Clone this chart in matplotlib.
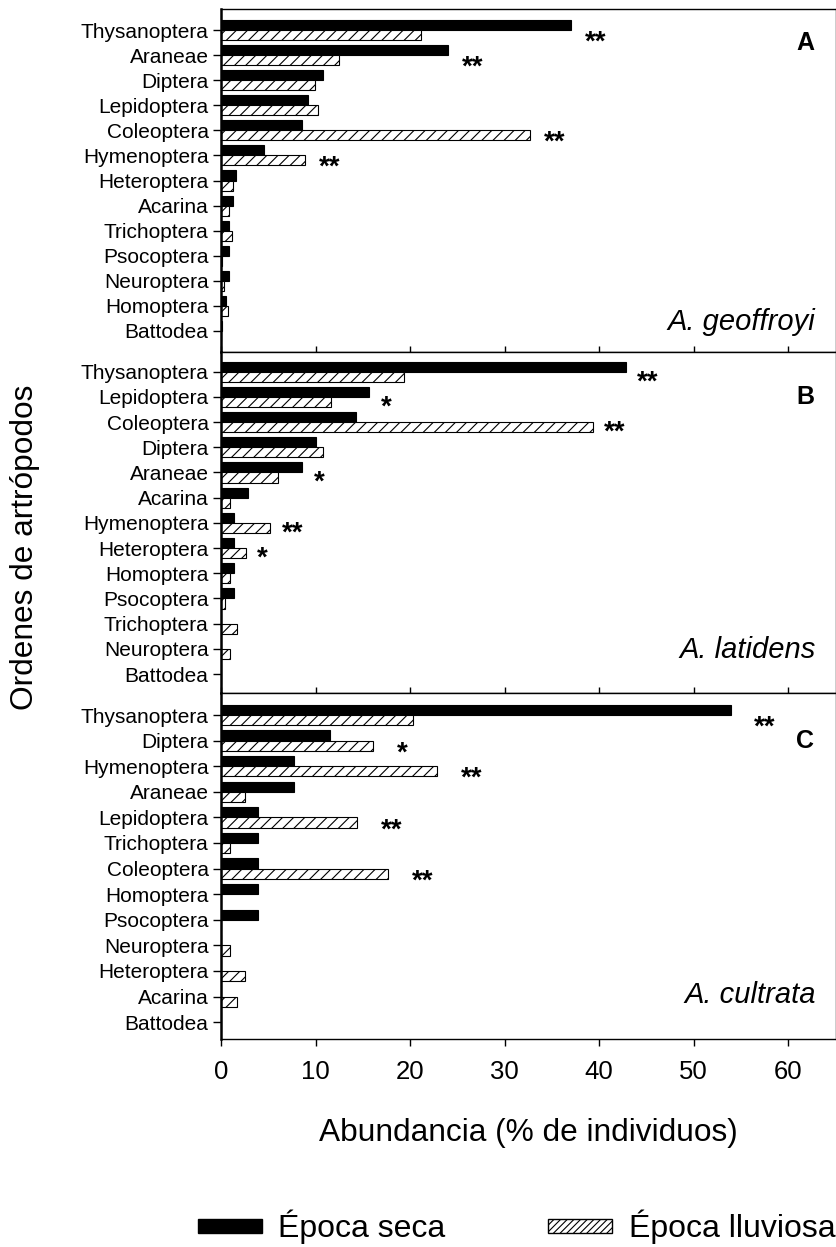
import matplotlib
matplotlib.use('Agg')
import matplotlib.pyplot as plt
from matplotlib.patches import Patch

plt.rcParams['font.family'] = ['Liberation Sans', 'DejaVu Sans']
plt.rcParams['hatch.linewidth'] = 0.8

# A. geoffroyi
orders_a = ['Thysanoptera', 'Araneae', 'Diptera', 'Lepidoptera', 'Coleoptera',
            'Hymenoptera', 'Heteroptera', 'Acarina', 'Trichoptera', 'Psocoptera',
            'Neuroptera', 'Homoptera', 'Battodea']
seca_a = [37.0, 24.0, 10.8, 9.2, 8.6, 4.5, 1.6, 1.3, 0.8, 0.8, 0.8, 0.5, 0.15]
lluv_a = [21.2, 12.5, 9.9, 10.3, 32.7, 8.9, 1.3, 0.8, 1.2, 0.15, 0.35, 0.7, 0.0]
sig_a = ['**', '**', '', '', '**', '**', '', '', '', '', '', '', '']

# A. latidens
orders_b = ['Thysanoptera', 'Lepidoptera', 'Coleoptera', 'Diptera', 'Araneae',
            'Acarina', 'Hymenoptera', 'Heteroptera', 'Homoptera', 'Psocoptera',
            'Trichoptera', 'Neuroptera', 'Battodea']
seca_b = [42.8, 15.7, 14.3, 10.0, 8.6, 2.85, 1.4, 1.4, 1.4, 1.4, 0.0, 0.0, 0.0]
lluv_b = [19.4, 11.6, 39.3, 10.8, 6.0, 0.9, 5.2, 2.6, 0.9, 0.4, 1.7, 0.9, 0.0]
sig_b = ['**', '*', '**', '', '*', '', '**', '*', '', '', '', '', '']

# A. cultrata
orders_c = ['Thysanoptera', 'Diptera', 'Hymenoptera', 'Araneae', 'Lepidoptera',
            'Trichoptera', 'Coleoptera', 'Homoptera', 'Psocoptera', 'Neuroptera',
            'Heteroptera', 'Acarina', 'Battodea']
seca_c = [53.9, 11.5, 7.7, 7.7, 3.9, 3.9, 3.9, 3.9, 3.9, 0.0, 0.0, 0.0, 0.0]
lluv_c = [20.3, 16.1, 22.9, 2.5, 14.4, 0.9, 17.7, 0.0, 0.0, 0.9, 2.5, 1.7, 0.0]
sig_c = ['**', '*', '**', '', '**', '', '**', '', '', '', '', '', '']

letters = ['A', 'B', 'C']
species = ['A. geoffroyi', 'A. latidens', 'A. cultrata']

W, H = 836, 1247
fig = plt.figure(figsize=(W / 100, H / 100), dpi=100)

# panel edges in pixels (top, bottom) and y limits
edges = [(9.3, 352), (352, 693), (693, 1039)]
ylims = [(12.84, -0.83), (12.75, -0.78), (12.66, -0.86)]
letter_y = [0.5, 1.0, 1.0]
species_y = [11.64, 11.04, 10.94]
star_off = [1.5, 1.2, 2.5]
star_dy = [0.5, 0.42, 0.5]

panels = [(orders_a, seca_a, lluv_a, sig_a),
          (orders_b, seca_b, lluv_b, sig_b),
          (orders_c, seca_c, lluv_c, sig_c)]

left = 221 / W
width = (835.5 - 221) / W
h = 0.4

for k, (orders, seca, lluv, sig) in enumerate(panels):
    top, bot = edges[k]
    ax = fig.add_axes([left, 1 - bot / H, width, (bot - top) / H])
    y = list(range(len(orders)))
    ax.barh([v - h / 2 for v in y], seca, height=h, color='black',
            edgecolor='black', linewidth=0.8)
    ax.barh([v + h / 2 for v in y], lluv, height=h, color='white',
            edgecolor='black', linewidth=0.8, hatch='///')

    # significance marks
    for i, s in enumerate(sig):
        if s:
            ax.text(max(seca[i], lluv[i]) + star_off[k], i + star_dy[k], s,
                    ha='left', va='center', fontsize=20, fontweight='bold')

    ax.text(61.8, letter_y[k], letters[k], ha='center', va='center',
            fontsize=18, fontweight='bold')
    ax.text(62.9, species_y[k], species[k], ha='right', va='center',
            fontsize=21, style='italic')

    ax.set_xlim(0, 65)
    ax.set_ylim(*ylims[k])
    ax.set_yticks(y)
    ax.set_yticklabels(orders)
    ax.set_xticks(range(0, 70, 10))
    ax.tick_params(axis='y', direction='out', length=6, width=1, pad=3,
                   labelsize=15)
    if k < 2:
        ax.tick_params(axis='x', direction='in', length=4, width=1,
                       labelbottom=False)
    else:
        ax.tick_params(axis='x', direction='out', length=5, width=1, pad=10,
                       labelsize=18.5)
    ax.spines['left'].set_linewidth(1.8)
    for side in ['top', 'right', 'bottom']:
        ax.spines[side].set_linewidth(1.0)

fig.text(25 / W, 1 - 547 / H, 'Ordenes de artrópodos', rotation=90,
         ha='center', va='center', fontsize=22.8)
fig.text(528 / W, 1 - 1133 / H, 'Abundancia (% de individuos)',
         ha='center', va='center', fontsize=22.8)

handles = [Patch(facecolor='black', edgecolor='black', label='Época seca'),
           Patch(facecolor='white', edgecolor='black', hatch='/////',
                 label='Época lluviosa')]
fig.legend(handles=handles, ncol=2, loc='center',
           bbox_to_anchor=(516.5 / W, 1 - 1227 / H), frameon=False,
           fontsize=23, handlelength=2.0, handleheight=0.32,
           handletextpad=0.53, columnspacing=3.2, borderpad=0)

fig.savefig('out.png', dpi=100)
